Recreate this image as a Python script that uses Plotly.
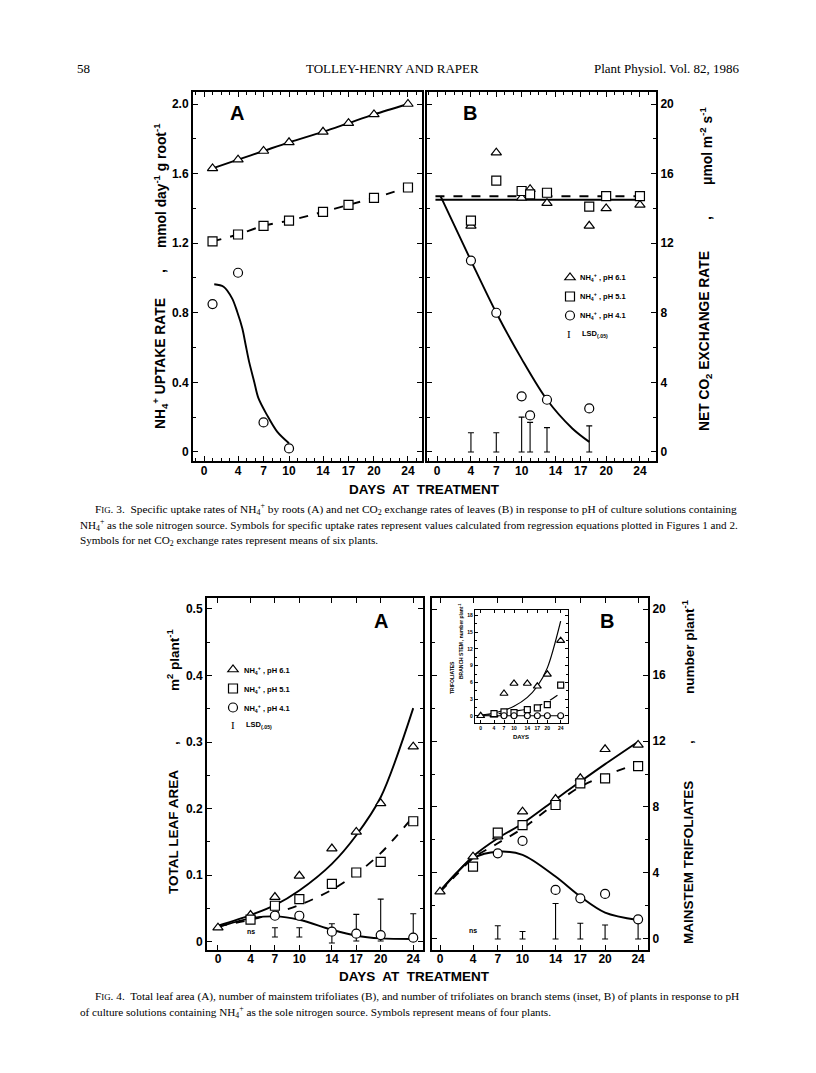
import plotly.graph_objects as go

W, H = 816, 1073
OFF = 8  # browser body margin

# ---------------- data ----------------
day_ticks = [0, 4, 7, 10, 14, 17, 20, 24]

# Fig. 3A  NH4+ uptake rate
f3a_days = [1, 4, 7, 10, 14, 17, 20, 24]
f3a_ph61 = [1.63, 1.68, 1.73, 1.78, 1.84, 1.89, 1.94, 2.00]
f3a_ph51 = [1.21, 1.25, 1.30, 1.33, 1.38, 1.42, 1.46, 1.52]
f3a_ph41_days = [1, 4, 7, 10]
f3a_ph41 = [0.85, 1.03, 0.17, 0.02]
f3a_fit41_days = [1.2, 2.3, 3.3, 3.9, 4.5, 4.9, 5.3, 5.9, 6.4, 7.4, 8.6, 10.0]
f3a_fit41 = [0.964, 0.95, 0.883, 0.806, 0.711, 0.615, 0.519, 0.404, 0.309, 0.213, 0.117, 0.05]

# Fig. 3B  net CO2 exchange rate
f3b_days = [4, 7, 10, 11, 13, 18, 20, 24]
f3b_ph61 = [13.0, 17.2, 14.6, 15.1, 14.3, 13.0, 14.0, 14.2]
f3b_ph51 = [13.3, 15.6, 15.0, 14.8, 14.9, 14.1, 14.7, 14.7]
f3b_ph41_days = [4, 7, 10, 11, 13, 18]
f3b_ph41 = [11.0, 8.0, 3.2, 2.1, 3.0, 2.5]
f3b_fit_days = [-0.2, 24]
f3b_fit61 = [14.5, 14.5]
f3b_fit51 = [14.7, 14.7]
f3b_fit41_days = [0.4, 4, 7, 10, 13, 16, 18]
f3b_fit41 = [14.7, 11.0, 8.0, 5.35, 3.0, 1.35, 0.58]
f3b_lsd_days = [4, 7, 10, 11, 13, 18]
f3b_lsd_low = [0, 0, 0, 0, 0, 0]
f3b_lsd_high = [1.1, 1.1, 2.0, 1.7, 1.4, 1.5]

# Fig. 4A  total leaf area
f4a_days = [0, 4, 7, 10, 14, 17, 20, 24]
f4a_ph61 = [0.021, 0.040, 0.067, 0.099, 0.140, 0.165, 0.208, 0.293]
f4a_ph51_days = [4, 7, 10, 14, 17, 20, 24]
f4a_ph51 = [0.033, 0.054, 0.064, 0.087, 0.104, 0.120, 0.181]
f4a_ph41_days = [7, 10, 14, 17, 20, 24]
f4a_ph41 = [0.039, 0.039, 0.015, 0.012, 0.010, 0.006]
f4a_fit_days = [0, 4, 7, 10, 14, 17, 20, 24]
f4a_fit61 = [0.024, 0.040, 0.055, 0.077, 0.117, 0.160, 0.217, 0.351]
f4a_fit51 = [0.023, 0.033, 0.043, 0.055, 0.078, 0.102, 0.133, 0.188]
f4a_fit41 = [0.022, 0.035, 0.038, 0.033, 0.018, 0.009, 0.005, 0.004]
f4a_lsd_days = [7, 10, 14, 17, 20, 24]
f4a_lsd_low = [0.007, 0.007, -0.002, 0.001, 0.001, 0.001]
f4a_lsd_high = [0.021, 0.021, 0.027, 0.041, 0.064, 0.042]

# Fig. 4B  mainstem trifoliates
f4b_days = [0, 4, 7, 10, 14, 17, 20, 24]
f4b_ph61 = [2.87, 4.99, 6.2, 7.72, 8.48, 9.74, 11.5, 11.76]
f4b_ph51_days = [4, 7, 10, 14, 17, 20, 24]
f4b_ph51 = [4.38, 6.44, 6.9, 8.12, 9.43, 9.74, 10.48]
f4b_ph41_days = [7, 10, 14, 17, 20, 24]
f4b_ph41 = [5.19, 5.94, 2.97, 2.46, 2.73, 1.19]
f4b_fit_days = [0, 2, 4, 7, 10, 14, 17, 20, 24]
f4b_fit61 = [2.9, 4.0, 5.0, 6.1, 7.0, 8.46, 9.54, 10.6, 11.96]
f4b_fit51 = [2.85, 3.9, 4.9, 5.8, 6.7, 8.22, 9.23, 9.9, 10.65]
f4b_fit41 = [2.9, 4.0, 4.9, 5.29, 5.1, 3.78, 2.57, 1.6, 1.15]
f4b_lsd_days = [7, 10, 14, 17, 20, 24]
f4b_lsd_low = [0, 0, 0, 0, 0, 0]
f4b_lsd_high = [0.8, 0.45, 2.15, 0.95, 0.85, 1.0]

# Fig. 4B inset  branch stem trifoliates
ins_days = [0, 4, 7, 10, 14, 17, 20, 24]
ins_ph61 = [0.0, 0.1, 4.0, 5.8, 5.8, 5.3, 7.45, 13.5]
ins_ph51_days = [4, 7, 10, 14, 17, 20, 24]
ins_ph51 = [0.4, 0.7, 0.55, 1.1, 1.4, 2.0, 5.5]
ins_ph41_days = [7, 10, 14, 17, 20, 24]
ins_ph41 = [0, 0, 0, 0, 0, 0]
ins_fit_days = [0, 4, 7, 10, 14, 17, 20, 24]
ins_fit61 = [0.1, 0.5, 1.0, 1.7, 3.3, 5.3, 8.6, 17.0]
ins_fit51 = [0.0, 0.3, 0.5, 0.8, 1.2, 1.7, 2.5, 4.1]
ins_fit41 = [0, 0, 0, 0, 0, 0, 0, 0]

legend_labels = ["NH<sub>4</sub><sup>+</sup> , pH 6.1",
                 "NH<sub>4</sub><sup>+</sup> , pH 5.1",
                 "NH<sub>4</sub><sup>+</sup> , pH 4.1"]


# ---------------- helpers ----------------
def PX(x):
    return (x - OFF) / W


def PY(y):
    return 1 - (y - OFF) / H


SANS = "Liberation Sans"
SERIF = "Liberation Serif"

fig = go.Figure()


def line(x, y, ax, dash="solid", width=1.9):
    fig.add_trace(go.Scatter(
        x=x, y=y, xaxis="x" + ax, yaxis="y" + ax, mode="lines",
        line=dict(color="black", width=width, dash=dash, shape="spline", smoothing=0.9),
        showlegend=False, hoverinfo="skip"))


def marks(x, y, ax, symbol, size=9, legend=None):
    fig.add_trace(go.Scatter(
        x=x, y=y, xaxis="x" + ax, yaxis="y" + ax, mode="markers",
        marker=dict(symbol=symbol, size=size, color="white",
                    line=dict(color="black", width=1.2)),
        name=" ", showlegend=legend is not None,
        legend=legend or "legend", hoverinfo="skip"))


def lsd(x, lo, hi, ax):
    fig.add_trace(go.Scatter(
        x=x, y=lo, xaxis="x" + ax, yaxis="y" + ax, mode="markers",
        marker=dict(size=2, color="rgba(0,0,0,0)"),
        error_y=dict(type="data", symmetric=False,
                     array=[h - l for h, l in zip(hi, lo)],
                     arrayminus=[0] * len(lo), color="black", thickness=1.1, width=3),
        showlegend=False, hoverinfo="skip"))


SYM = ["triangle-up", "square", "circle"]

# ---- Fig 3A (axis suffix "") ----
line(f3a_days, f3a_ph61, "")
line(f3a_days, f3a_ph51, "", dash="dash")
line(f3a_fit41_days, f3a_fit41, "")
marks(f3a_days, f3a_ph61, "", SYM[0])
marks(f3a_days, f3a_ph51, "", SYM[1])
marks(f3a_ph41_days, f3a_ph41, "", SYM[2])

# ---- Fig 3B ("2") ----
line(f3b_fit_days, f3b_fit61, "2")
line(f3b_fit_days, f3b_fit51, "2", dash="dash")
line(f3b_fit41_days, f3b_fit41, "2")
lsd(f3b_lsd_days, f3b_lsd_low, f3b_lsd_high, "2")
marks(f3b_days, f3b_ph61, "2", SYM[0], legend="legend")
marks(f3b_days, f3b_ph51, "2", SYM[1], legend="legend")
marks(f3b_ph41_days, f3b_ph41, "2", SYM[2], legend="legend")

# ---- Fig 4A ("3") ----
line(f4a_fit_days, f4a_fit61, "3")
line(f4a_fit_days, f4a_fit51, "3", dash="dash")
line(f4a_fit_days, f4a_fit41, "3")
lsd(f4a_lsd_days, f4a_lsd_low, f4a_lsd_high, "3")
marks(f4a_days, f4a_ph61, "3", SYM[0], legend="legend2")
marks(f4a_ph51_days, f4a_ph51, "3", SYM[1], legend="legend2")
marks(f4a_ph41_days, f4a_ph41, "3", SYM[2], legend="legend2")

# ---- Fig 4B ("4") ----
line(f4b_fit_days, f4b_fit61, "4")
line(f4b_fit_days, f4b_fit51, "4", dash="dash")
line(f4b_fit_days, f4b_fit41, "4")
lsd(f4b_lsd_days, f4b_lsd_low, f4b_lsd_high, "4")
marks(f4b_days, f4b_ph61, "4", SYM[0])
marks(f4b_ph51_days, f4b_ph51, "4", SYM[1])
marks(f4b_ph41_days, f4b_ph41, "4", SYM[2])

# ---- Inset ("5") ----
line(ins_fit_days, ins_fit61, "5", width=1.2)
line(ins_fit_days, ins_fit51, "5", dash="dash", width=1.2)
line(ins_fit_days, ins_fit41, "5", width=1.2)
marks(ins_days, ins_ph61, "5", SYM[0], size=7)
marks(ins_ph51_days, ins_ph51, "5", SYM[1], size=6)
marks(ins_ph41_days, ins_ph41, "5", SYM[2], size=6)


# ---------------- axes ----------------
def ax(domain, rng, anchor, tickvals, ticktext, minor=None, side=None, fs=12, lw=2, tl=5,
       standoff=0):
    d = dict(domain=domain, range=rng, anchor=anchor, showline=True, linewidth=lw,
             linecolor="black", mirror="ticks", ticks="inside", ticklen=tl, tickwidth=1.2,
             tickcolor="black", showgrid=False, zeroline=False, tickmode="array",
             tickvals=tickvals, ticktext=ticktext, fixedrange=True,
             ticklabelstandoff=standoff,
             tickfont=dict(family=SANS, size=fs, color="black", weight="bold"))
    if minor is not None:
        d["minor"] = dict(tickmode="linear", tick0=0, dtick=minor, ticks="inside",
                          ticklen=max(tl - 2, 2), tickwidth=1, tickcolor="black", showgrid=False)
    if side:
        d["side"] = side
    return d


day_txt = [str(d) for d in day_ticks]
f3y = [0, 0.4, 0.8, 1.2, 1.6, 2.0]
f3by = [0, 4, 8, 12, 16, 20]
f4y = [0, 0.1, 0.2, 0.3, 0.4, 0.5]
insy = [0, 3, 6, 9, 12, 15, 18]

fig.update_layout(
    xaxis=ax([PX(193), PX(422)], [-1.3, 25.65], "y", day_ticks, day_txt, minor=1, standoff=-2),
    yaxis=ax([PY(461), PY(92)], [-0.052, 2.069], "x", f3y,
             ["0", "0.4", "0.8", "1.2", "1.6", "2.0"], minor=0.2),
    xaxis2=ax([PX(427), PX(656)], [-1.2, 25.9], "y2", day_ticks, day_txt, minor=1, standoff=-2),
    yaxis2=ax([PY(461), PY(92)], [-0.52, 20.69], "x2", f3by, [str(v) for v in f3by],
              minor=2, side="right"),
    xaxis3=ax([PX(207), PX(423)], [-1.35, 25.2], "y3", day_ticks, day_txt, standoff=-3),
    yaxis3=ax([PY(950), PY(598)], [-0.0125, 0.5165], "x3", f4y,
              ["0", "0.1", "0.2", "0.3", "0.4", "0.5"], minor=0.05),
    xaxis4=ax([PX(432), PX(648)], [-0.97, 25.2], "y4", day_ticks, day_txt, standoff=-3),
    yaxis4=ax([PY(950), PY(598)], [-0.67, 20.67], "x4", f3by, [str(v) for v in f3by],
              minor=2, side="right"),
    xaxis5=ax([PX(475), PX(568)], [-1.7, 26.2], "y5", day_ticks, day_txt, fs=5, lw=1.3, tl=3),
    yaxis5=ax([PY(723), PY(610)], [-1.3, 19.0], "x5", insy, [str(v) for v in insy],
              minor=1.5, fs=5, lw=1.3, tl=3),
)

legend_common = dict(xanchor="left", yanchor="top", bgcolor="rgba(0,0,0,0)", borderwidth=0,
                     font=dict(family=SANS, size=8, color="black", weight="bold"),
                     itemwidth=30, tracegroupgap=0, traceorder="normal")
fig.update_layout(
    legend=dict(x=PX(550), y=PY(263), **legend_common),
    legend2=dict(x=PX(213), y=PY(655), **legend_common),
)

# ---------------- text ----------------
ann = []


def text(x, y, s, size=12, bold=False, family=SANS, xanchor="center", yanchor="middle",
         angle=0, ref=("paper", "paper")):
    ann.append(dict(x=x, y=y, xref=ref[0], yref=ref[1], text=s, showarrow=False,
                    xanchor=xanchor, yanchor=yanchor, textangle=angle,
                    font=dict(family=family, size=size, color="black",
                              weight="bold" if bold else "normal")))


# header
text(PX(75), PY(68), "58", size=13, family=SERIF, xanchor="left")
text(PX(392), PY(68), "TOLLEY-HENRY AND RAPER", size=13, family=SERIF)
text(PX(742), PY(68), "Plant Physiol. Vol. 82, 1986", size=13, family=SERIF, xanchor="right")

# panel letters
text(PX(237), PY(113), "A", size=20, bold=True)
text(PX(470), PY(113), "B", size=20, bold=True)
text(PX(381), PY(621), "A", size=20, bold=True)
text(PX(607), PY(621), "B", size=20, bold=True)

# y titles
TS = 13.8
text(PX(160), PY(364), "NH<sub>4</sub><sup>+</sup> UPTAKE RATE", size=TS, bold=True, angle=-90)
text(PX(160), PY(271), ",", size=TS, bold=True, angle=-90)
text(PX(160), PY(186), "mmol day<sup>-1</sup> g root<sup>-1</sup>", size=TS, bold=True, angle=-90)

text(PX(706), PY(341), "NET CO<sub>2</sub> EXCHANGE RATE", size=TS, bold=True, angle=-90)
text(PX(706), PY(218), ",", size=TS, bold=True, angle=-90)
text(PX(706), PY(146), "μmol m<sup>-2</sup> s<sup>-1</sup>", size=TS, bold=True, angle=-90)

T4 = 13.5
text(PX(173), PY(832), "TOTAL LEAF AREA", size=T4, bold=True, angle=-90)
text(PX(173), PY(743), ",", size=T4, bold=True, angle=-90)
text(PX(173), PY(660), "m<sup>2</sup> plant<sup>-1</sup>", size=T4, bold=True, angle=-90)

text(PX(688), PY(863), "MAINSTEM TRIFOLIATES", size=T4, bold=True, angle=-90)
text(PX(688), PY(742), ",", size=T4, bold=True, angle=-90)
text(PX(688), PY(647), "number plant<sup>-1</sup>", size=T4, bold=True, angle=-90)

# inset titles
text(PX(452), PY(677), "TRIFOLIATES", size=5, bold=True, angle=-90)
text(PX(461), PY(661), "BRANCH STEM", size=5, bold=True, angle=-90)
text(PX(461), PY(622), ", number plant<sup>-1</sup>", size=5, bold=True, angle=-90)
text(PX(521), PY(737), "DAYS", size=6, bold=True)

# x titles
text(PX(424), PY(489), "DAYS  AT  TREATMENT", size=13.5, bold=True)
text(PX(414), PY(976), "DAYS  AT  TREATMENT", size=13.5, bold=True)

# legend labels (symbols come from the plotly legends)
for i, yy in enumerate([277, 296, 315]):
    text(PX(578), PY(yy), legend_labels[i], size=7.5, bold=True, xanchor="left")
text(PX(569), PY(334), "I", size=11, family=SERIF)
text(PX(580), PY(334), "LSD<sub>(.05)</sub>", size=7.5, bold=True, xanchor="left")

for i, yy in enumerate([670, 689, 708]):
    text(PX(242), PY(yy), legend_labels[i], size=7.5, bold=True, xanchor="left")
text(PX(233), PY(725), "I", size=11, family=SERIF)
text(PX(244), PY(725), "LSD<sub>(.05)</sub>", size=7.5, bold=True, xanchor="left")

# ns labels (data coordinates)
text(4, 0.016, "ns", size=7, bold=True, ref=("x3", "y3"))
text(4, 0.5, "ns", size=7, bold=True, ref=("x4", "y4"))

# captions
FIG = "F<span style='font-size:8.8px'>IG</span>."
cap = 11.2
text(PX(93), PY(509), FIG + " 3.  Specific uptake rates of NH<sub>4</sub><sup>+</sup> by roots (A) and net CO<sub>2</sub> exchange rates of leaves (B) in response to pH of culture solutions containing",
     size=cap + 0.15, family=SERIF, xanchor="left")
text(PX(78), PY(525), "NH<sub>4</sub><sup>+</sup> as the sole nitrogen source. Symbols for specific uptake rates represent values calculated from regression equations plotted in Figures 1 and 2.",
     size=cap - 0.1, family=SERIF, xanchor="left")
text(PX(78), PY(541), "Symbols for net CO<sub>2</sub> exchange rates represent means of six plants.",
     size=cap, family=SERIF, xanchor="left")
text(PX(93), PY(996), FIG + " 4.  Total leaf area (A), number of mainstem trifoliates (B), and number of trifoliates on branch stems (inset, B) of plants in response to pH",
     size=cap + 0.1, family=SERIF, xanchor="left")
text(PX(78), PY(1012), "of culture solutions containing NH<sub>4</sub><sup>+</sup> as the sole nitrogen source. Symbols represent means of four plants.",
     size=cap, family=SERIF, xanchor="left")

fig.update_layout(
    annotations=ann,
    width=W, height=H,
    margin=dict(l=0, r=0, t=0, b=0),
    paper_bgcolor="white", plot_bgcolor="white",
    showlegend=True,
    font=dict(family=SANS, color="black"),
)

fig.write_html("out.html")
